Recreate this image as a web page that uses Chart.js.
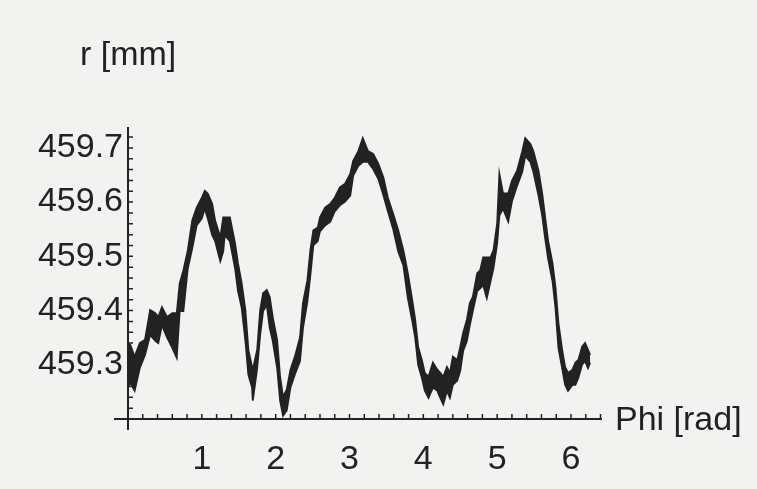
<!DOCTYPE html>
<html>
<head>
<meta charset="utf-8">
<script src="https://cdn.jsdelivr.net/npm/chart.js@4"></script>
<style>
  html, body { margin: 0; padding: 0; background: #f2f2f0; }
  #chart { display: block; }
</style>
</head>
<body>
<canvas id="chart" width="757" height="489"></canvas>
<script>
// phi [rad], with the upper and lower edge of the noisy trace at each position
const phi = [
    0.00, 0.03, 0.09, 0.16, 0.23, 0.30, 0.37, 0.41, 0.46, 0.53,
    0.60, 0.66, 0.70, 0.75, 0.81, 0.87, 0.93, 1.00, 1.04, 1.08,
    1.14, 1.18, 1.25, 1.29, 1.31, 1.38, 1.45, 1.49, 1.54, 1.59,
    1.63, 1.68, 1.69, 1.75, 1.79, 1.83, 1.88, 1.92, 1.96, 2.02,
    2.06, 2.10, 2.15, 2.20, 2.26, 2.33, 2.37, 2.43, 2.47, 2.51,
    2.57, 2.60, 2.67, 2.74, 2.80, 2.87, 2.94, 3.01, 3.05, 3.12,
    3.18, 3.25, 3.32, 3.39, 3.46, 3.52, 3.59, 3.66, 3.73, 3.79,
    3.85, 3.89, 3.93, 3.98, 4.02, 4.07, 4.13, 4.19, 4.23, 4.27,
    4.32, 4.36, 4.40, 4.46, 4.50, 4.54, 4.59, 4.63, 4.67, 4.73,
    4.77, 4.81, 4.86, 4.91, 4.95, 5.00, 5.03, 5.08, 5.15, 5.20,
    5.27, 5.34, 5.38, 5.45, 5.49, 5.56, 5.61, 5.65, 5.69, 5.75,
    5.79, 5.83, 5.88, 5.92, 5.96, 6.02, 6.06, 6.10, 6.15, 6.19,
    6.23, 6.26
];
const rHigh = [
    459.340, 459.337, 459.315, 459.340, 459.346, 459.401, 459.395, 459.388, 459.406, 459.388,
    459.395, 459.395, 459.450, 459.474, 459.511, 459.566, 459.590, 459.608, 459.621, 459.616,
    459.597, 459.566, 459.535, 459.572, 459.572, 459.572, 459.524, 459.487, 459.450, 459.401,
    459.328, 459.296, 459.291, 459.328, 459.401, 459.432, 459.438, 459.425, 459.388, 459.346,
    459.278, 459.241, 459.254, 459.291, 459.315, 459.351, 459.414, 459.456, 459.511, 459.548,
    459.553, 459.572, 459.590, 459.597, 459.608, 459.627, 459.634, 459.652, 459.676, 459.694,
    459.718, 459.694, 459.689, 459.671, 459.645, 459.608, 459.579, 459.548, 459.511, 459.469,
    459.419, 459.383, 459.333, 459.309, 459.285, 459.278, 459.304, 459.291, 459.285, 459.278,
    459.296, 459.285, 459.315, 459.309, 459.333, 459.359, 459.383, 459.414, 459.425, 459.469,
    459.474, 459.498, 459.498, 459.498, 459.511, 459.561, 459.652, 459.616, 459.616, 459.639,
    459.658, 459.694, 459.718, 459.707, 459.694, 459.658, 459.616, 459.572, 459.529, 459.487,
    459.443, 459.377, 459.328, 459.296, 459.285, 459.291, 459.304, 459.309, 459.333, 459.340,
    459.328, 459.318
];
const rLow = [
    459.258, 459.267, 459.252, 459.294, 459.318, 459.355, 459.344, 459.340, 459.373, 459.350,
    459.331, 459.313, 459.399, 459.399, 459.478, 459.515, 459.557, 459.570, 459.588, 459.570,
    459.539, 459.528, 459.491, 459.509, 459.539, 459.528, 459.478, 459.436, 459.405, 459.344,
    459.282, 459.258, 459.234, 459.294, 459.355, 459.399, 459.410, 459.368, 459.344, 459.294,
    459.234, 459.206, 459.216, 459.258, 459.282, 459.307, 459.368, 459.417, 459.465, 459.520,
    459.528, 459.546, 459.557, 459.564, 459.583, 459.594, 459.601, 459.612, 459.649, 459.667,
    459.674, 459.674, 459.661, 459.643, 459.612, 459.583, 459.551, 459.509, 459.483, 459.423,
    459.381, 459.350, 459.300, 459.276, 459.252, 459.239, 459.258, 459.252, 459.239, 459.227,
    459.252, 459.239, 459.263, 459.271, 459.289, 459.326, 459.344, 459.373, 459.399, 459.436,
    459.441, 459.447, 459.423, 459.454, 459.478, 459.524, 459.575, 459.588, 459.564, 459.601,
    459.630, 459.656, 459.685, 459.674, 459.656, 459.612, 459.575, 459.533, 459.496, 459.454,
    459.405, 459.331, 459.294, 459.263, 459.252, 459.263, 459.263, 459.276, 459.300, 459.307,
    459.294, 459.304
];

const xTicks = [1, 2, 3, 4, 5, 6];
const yTicks = [459.3, 459.4, 459.5, 459.6, 459.7];

const ink = '#222';
const font = { family: '"Liberation Sans", Arial, sans-serif', size: 34 };

// the noisy trace is drawn as a filled band between its upper and lower edge
const upper = phi.map((p, i) => ({ x: p, y: rHigh[i] }));
const lower = phi.map((p, i) => ({ x: p, y: rLow[i] }));

const onStep = (v, step) => Math.abs(v / step - Math.round(v / step)) < 1e-6;

const axesPlugin = {
    id: 'mathAxes',
    afterDraw(chart) {
        const { ctx, chartArea: a, scales: { x, y } } = chart;
        const x0 = x.getPixelForValue(0);
        const y0 = y.getPixelForValue(459.2);
        ctx.save();
        ctx.strokeStyle = ink;
        ctx.lineWidth = 2;
        ctx.beginPath();
        ctx.moveTo(a.left - 14, y0);
        ctx.lineTo(a.right, y0);
        ctx.moveTo(x0, a.top);
        ctx.lineTo(x0, a.bottom + 11);
        ctx.stroke();

        // short ticks pointing into the plot
        ctx.lineWidth = 1.5;
        ctx.beginPath();
        x.ticks.forEach(t => {
            if (t.value <= 0 || !onStep(t.value, 0.2)) return;
            const px = x.getPixelForValue(t.value);
            ctx.moveTo(px, y0);
            ctx.lineTo(px, y0 - 5);
        });
        y.ticks.forEach(t => {
            if (t.value <= 459.2 || !onStep(t.value - 459.2, 0.02)) return;
            const py = y.getPixelForValue(t.value);
            ctx.moveTo(x0, py);
            ctx.lineTo(x0 + 5, py);
        });
        ctx.stroke();

        ctx.fillStyle = ink;
        ctx.font = `${font.size}px ${font.family}`;
        ctx.textBaseline = 'alphabetic';
        ctx.textAlign = 'left';
        ctx.fillText('r [mm]', a.left - 48, a.top - 62);
        ctx.fillText('Phi [rad]', a.right + 13, y0 + 11);
        ctx.restore();
    }
};

new Chart(document.getElementById('chart'), {
    type: 'scatter',
    data: {
        datasets: [
            {
                data: upper,
                showLine: true,
                fill: '+1',
                backgroundColor: ink,
                borderColor: ink,
                borderWidth: 1.8,
                pointRadius: 0,
                tension: 0
            },
            {
                data: lower,
                showLine: true,
                fill: false,
                borderColor: ink,
                borderWidth: 1.8,
                pointRadius: 0,
                tension: 0
            }
        ]
    },
    options: {
        responsive: false,
        animation: false,
        devicePixelRatio: 1,
        layout: { padding: { left: 0, right: 155, top: 127, bottom: 0 } },
        plugins: { legend: { display: false }, tooltip: { enabled: false } },
        scales: {
            x: {
                type: 'linear',
                min: 0,
                max: 6.42,
                border: { display: false },
                grid: { display: false, drawTicks: false },
                ticks: {
                    stepSize: 0.2,
                    includeBounds: false,
                    autoSkip: false,
                    maxRotation: 0,
                    padding: 20,
                    color: ink,
                    font,
                    callback: v => (onStep(v, 1) && xTicks.includes(Math.round(v))) ? String(Math.round(v)) : ''
                },
                afterFit: s => { s.height = 70; }
            },
            y: {
                type: 'linear',
                min: 459.2,
                max: 459.7385,
                border: { display: false },
                grid: { display: false, drawTicks: false },
                ticks: {
                    stepSize: 0.02,
                    includeBounds: false,
                    autoSkip: false,
                    padding: 5,
                    color: ink,
                    font,
                    callback: v => yTicks.some(t => Math.abs(t - v) < 1e-6) ? v.toFixed(1) : ''
                },
                afterFit: s => { s.width = 128; }
            }
        }
    },
    plugins: [axesPlugin]
});
</script>
</body>
</html>
